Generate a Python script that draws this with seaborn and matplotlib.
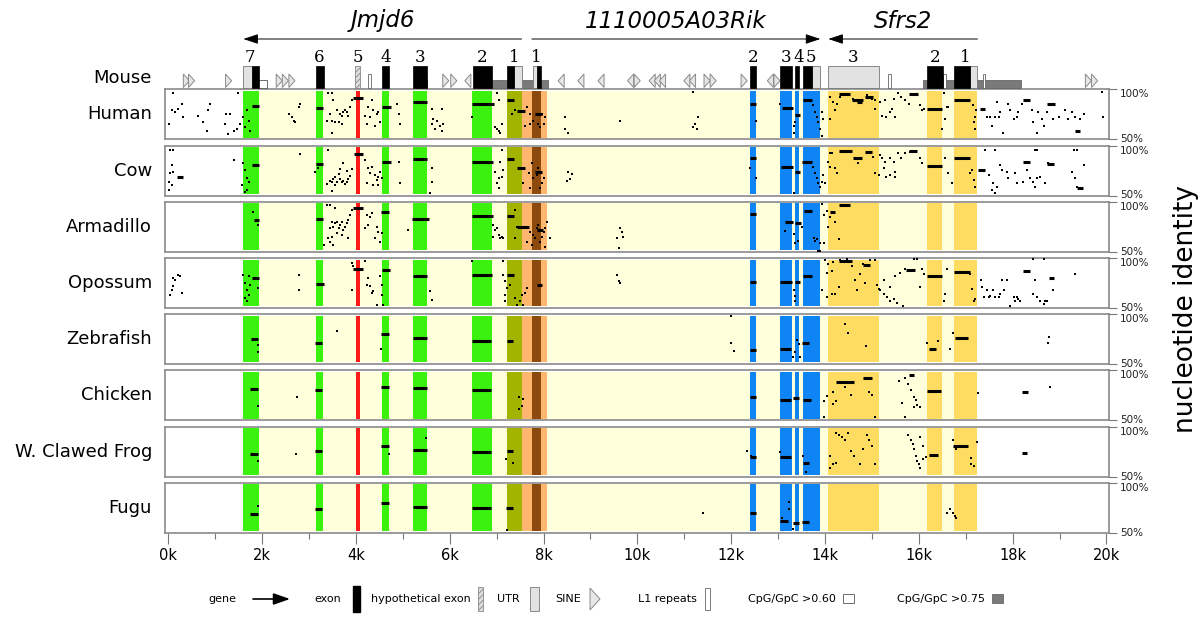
import numpy as np
import pandas as pd
import matplotlib
matplotlib.use("Agg")
import matplotlib.pyplot as plt
from matplotlib.patches import Rectangle, Polygon
import seaborn as sns

# ----- style -----
sns.set_style("white")
plt.rcParams["font.family"] = ["DejaVu Sans"]
plt.rcParams["hatch.linewidth"] = 0.5
plt.rcParams["text.color"] = "black"
plt.rcParams["xtick.color"] = "black"
plt.rcParams["ytick.color"] = "black"

# ----- data (kb along mouse sequence, % identity) -----
species = ["Human", "Cow", "Armadillo", "Opossum", "Zebrafish", "Chicken",
           "W. Clawed Frog", "Fugu"]

# genes on the mouse sequence
gene_names = ["Jmjd6", "1110005A03Rik", "Sfrs2"]
gene_start = [1.60, 7.75, 14.07]
gene_end = [7.53, 13.90, 17.25]
gene_strand = ["-", "+", "-"]

# exon numbers above the track
exon_num_pos = [1.74, 3.22, 4.04, 4.63, 5.37, 6.69, 7.38,
                7.85, 12.46, 13.17, 13.43, 13.69,
                14.59, 16.35, 16.99]
exon_num_text = ["7", "6", "5", "4", "3", "2", "1",
                 "1", "2", "3", "4", "5",
                 "3", "2", "1"]

# mouse annotation features
exons = [(1.78, 1.93), (3.14, 3.31), (4.56, 4.71), (5.22, 5.52), (6.49, 6.89),
         (7.22, 7.36), (7.85, 7.94), (12.41, 12.53), (13.05, 13.30),
         (13.36, 13.45), (13.54, 13.73), (16.18, 16.52), (16.75, 17.10)]
utrs = [(1.60, 1.78), (7.36, 7.53), (7.77, 7.85), (13.73, 13.90),
        (14.06, 15.14), (17.10, 17.25)]
hypothetical_exons = [(3.98, 4.09)]
l1_repeats = [(4.25, 4.32), (15.35, 15.41), (16.52, 16.58), (17.36, 17.42)]
cpg_060 = [(1.92, 2.10)]
cpg_075 = [(5.29, 5.51), (6.61, 8.10), (16.09, 18.18)]
sine_right = [0.32, 0.43, 1.22, 2.30, 2.43, 2.57, 5.85, 6.02, 9.93,
              11.42, 11.55, 12.21, 12.91, 19.55, 19.68]
sine_left = [6.45, 8.44, 8.86, 9.29, 9.92, 10.38, 10.49, 10.60, 11.12,
             11.24, 12.90]

# shaded regions in the identity panels
band_start = [1.60, 1.60, 3.14, 4.56, 5.22, 6.48, 4.00, 7.22, 7.54, 7.94,
              7.75, 12.41, 13.05, 13.36, 13.54, 14.06, 16.18, 16.75]
band_end = [17.25, 1.94, 3.30, 4.71, 5.52, 6.89, 4.09, 7.54, 7.75, 8.08,
            7.94, 12.53, 13.30, 13.45, 13.90, 15.14, 16.50, 17.25]
band_kind = ["region", "jmjd6", "jmjd6", "jmjd6", "jmjd6", "jmjd6", "hypo",
             "jmjd6_first", "utr", "utr", "rik_first", "rik", "rik", "rik",
             "rik", "sfrs2", "sfrs2", "sfrs2"]

# conserved segments (start kb, end kb, identity %)
human_segs = [(1.78, 1.94, 83.3), (3.14, 3.30, 81.6), (3.94, 4.16, 91.8),
              (4.56, 4.74, 82.3), (5.22, 5.52, 87.8), (6.48, 6.94, 85.4),
              (7.22, 7.36, 89.1), (7.43, 7.61, 78.2), (7.82, 7.96, 75.5),
              (12.40, 12.53, 85.0), (13.08, 13.31, 81.6), (13.36, 13.46, 74.5),
              (13.54, 13.72, 89.1), (14.29, 14.54, 95.2), (14.57, 14.82, 89.1),
              (14.86, 15.03, 92.5), (14.68, 14.78, 87.4), (15.78, 15.99, 95.2),
              (16.17, 16.49, 80.6), (16.74, 17.09, 89.1), (17.30, 17.41, 80.0),
              (18.23, 18.37, 89.1), (18.73, 18.90, 85.7), (19.33, 19.44, 58.5)]
human_dots = [(0.11, 95.9), (0.07, 78.9), (0.14, 77.0), (0.29, 85.7), (0.21, 80.6),
              (0.02, 65.3), (0.32, 72.0), (0.64, 73.8), (0.75, 67.0), (0.82, 58.5),
              (0.88, 85.7), (0.85, 78.9), (1.24, 75.5), (1.31, 75.5), (1.21, 65.3),
              (1.28, 55.0), (1.39, 58.5), (1.46, 60.2), (1.53, 65.3), (1.49, 95.9),
              (1.60, 72.0), (1.67, 79.0), (1.71, 68.7), (1.64, 62.0), (1.74, 58.5),
              (2.57, 75.5), (2.64, 72.0), (2.71, 67.0), (2.68, 68.7), (2.78, 82.3),
              (2.81, 85.7), (3.41, 95.9), (3.48, 95.9), (3.52, 89.1), (3.45, 75.5),
              (3.48, 68.7), (3.59, 78.9), (3.66, 75.5), (3.70, 73.8), (3.73, 77.2),
              (3.77, 78.9), (3.80, 77.2), (3.84, 73.8), (3.87, 82.3), (3.55, 67.0),
              (3.48, 56.8), (3.38, 68.7), (3.70, 65.3), (3.63, 67.0), (3.91, 89.0),
              (4.19, 73.8), (4.23, 65.3), (4.26, 82.3), (4.34, 89.1), (4.37, 78.9),
              (4.44, 75.5), (4.51, 67.0), (4.48, 77.2), (4.30, 72.0), (4.41, 63.6),
              (4.87, 85.7), (4.91, 75.5), (4.94, 65.3), (5.62, 65.3), (5.65, 70.4),
              (5.72, 68.7), (5.79, 63.6), (5.83, 58.5), (5.86, 65.3), (5.69, 60.2),
              (5.62, 80.6), (5.83, 80.6), (6.47, 72.0), (7.00, 95.9), (7.04, 89.1),
              (6.97, 62.0), (7.07, 56.8), (7.00, 60.2), (7.11, 65.3), (7.04, 58.5),
              (7.33, 75.5), (7.40, 78.9), (7.64, 82.3), (7.71, 75.5), (7.78, 68.7),
              (7.85, 75.5), (7.89, 65.3), (7.96, 75.5), (8.00, 65.3), (8.03, 72.0),
              (7.71, 65.3), (7.61, 63.6), (7.92, 62.0), (8.46, 72.0), (8.46, 60.2),
              (8.53, 56.8), (9.63, 68.7), (11.19, 96.9), (11.30, 72.1), (11.23, 65.3),
              (11.26, 60.2), (11.19, 61.9), (12.53, 68.7), (13.04, 85.7), (13.33, 63.6),
              (13.36, 67.0), (13.33, 56.8), (13.75, 84.0), (13.79, 77.2), (13.82, 72.1),
              (13.86, 67.0), (13.89, 60.2), (13.93, 53.4), (13.96, 70.4), (13.93, 77.2),
              (14.11, 92.5), (14.18, 87.4), (14.21, 78.9), (14.25, 85.7), (14.32, 92.5),
              (14.60, 90.8), (14.89, 94.2), (15.00, 90.8), (15.07, 89.1), (15.07, 80.6),
              (14.11, 70.4), (15.17, 87.4), (15.28, 89.1), (15.31, 72.1), (15.38, 77.2),
              (15.49, 72.1), (15.46, 90.8), (15.56, 95.9), (15.63, 92.5), (15.71, 89.1),
              (15.78, 85.7), (16.03, 84.0), (16.06, 78.9), (16.10, 80.6), (15.42, 80.6),
              (15.21, 73.8), (16.53, 95.9), (16.56, 70.4), (16.49, 60.2), (16.60, 82.3),
              (16.63, 82.3), (17.15, 84.0), (17.19, 72.1), (17.20, 60.2), (17.17, 67.0),
              (17.22, 78.9), (17.45, 72.1), (17.52, 72.1), (17.56, 63.6), (17.63, 72.1),
              (17.70, 72.1), (17.66, 87.4), (17.73, 77.2), (17.80, 56.8), (17.91, 85.7),
              (17.95, 78.9), (18.02, 70.4), (18.09, 72.1), (18.12, 77.2), (18.19, 85.7),
              (18.41, 78.9), (18.44, 67.0), (18.51, 56.8), (18.55, 77.2), (18.62, 70.4),
              (18.66, 63.6), (18.73, 77.2), (18.87, 70.4), (18.98, 72.1), (19.12, 78.9),
              (19.19, 70.4), (19.26, 77.2), (19.33, 72.1), (19.44, 70.4), (19.51, 75.5),
              (19.90, 96.9), (19.93, 72.1)]

cow_segs = [(0.18, 0.32, 69.0), (1.78, 1.94, 80.7), (3.14, 3.30, 81.3),
            (3.96, 4.14, 91.7), (4.56, 4.74, 83.3), (5.22, 5.52, 86.7),
            (6.48, 6.93, 84.0), (7.22, 7.36, 86.7), (7.43, 7.61, 77.3),
            (7.82, 7.96, 73.3), (12.40, 12.53, 88.0), (13.07, 13.31, 78.7),
            (13.36, 13.46, 73.7), (13.50, 13.72, 84.0), (14.29, 14.57, 94.7),
            (14.60, 14.78, 88.0), (14.86, 15.00, 94.0), (15.78, 15.96, 94.7),
            (16.17, 16.49, 79.3), (16.74, 17.09, 88.0), (17.27, 17.41, 75.3),
            (18.23, 18.37, 84.0), (18.73, 18.88, 81.7), (19.37, 19.49, 57.3)]
cow_dots = [(0.03, 95.7), (0.11, 95.7), (0.07, 80.7), (0.03, 72.3), (0.11, 74.0),
            (0.02, 64.0), (0.07, 60.7), (0.02, 55.7), (1.39, 85.7), (1.60, 82.3),
            (1.64, 75.7), (1.67, 67.3), (1.71, 64.0), (1.67, 55.7), (1.57, 60.7),
            (1.64, 54.0), (2.81, 91.3), (3.13, 74.0), (3.20, 77.3), (3.41, 95.7),
            (3.45, 65.0), (3.48, 63.3), (3.52, 66.7), (3.55, 68.3), (3.59, 63.3),
            (3.63, 71.7), (3.66, 66.7), (3.70, 63.3), (3.73, 65.0), (3.77, 61.7),
            (3.80, 63.3), (3.84, 66.7), (3.87, 70.0), (3.91, 76.7), (3.38, 61.7),
            (3.48, 54.3), (3.55, 60.7), (3.66, 76.7), (3.80, 75.0), (3.73, 82.3),
            (4.19, 85.7), (4.26, 77.3), (4.30, 72.3), (4.34, 79.0), (4.41, 70.7),
            (4.44, 65.7), (4.48, 69.0), (4.55, 67.3), (4.51, 74.0), (4.23, 62.3),
            (4.37, 60.7), (4.48, 60.7), (4.91, 84.0), (4.94, 62.3), (5.62, 77.3),
            (5.62, 64.0), (5.58, 52.3), (7.11, 95.7), (7.07, 84.0), (6.97, 74.0),
            (7.04, 67.3), (7.00, 62.3), (7.11, 69.0), (7.14, 75.7), (7.04, 57.3),
            (7.57, 62.3), (7.68, 72.3), (7.75, 82.3), (7.78, 67.3), (7.85, 70.7),
            (7.89, 77.3), (7.96, 62.3), (8.00, 67.3), (7.71, 57.3), (7.92, 57.3),
            (8.53, 73.3), (8.56, 66.7), (8.49, 65.0), (8.60, 71.7), (12.40, 77.3),
            (12.53, 67.3), (13.33, 52.3), (13.75, 79.0), (13.79, 72.3), (13.82, 67.3),
            (13.86, 62.3), (13.89, 59.0), (13.93, 64.0), (14.00, 62.3), (13.96, 70.3),
            (14.07, 84.0), (14.14, 92.3), (14.21, 77.3), (14.25, 72.3), (14.11, 79.0),
            (14.71, 82.3), (14.89, 92.3), (15.03, 89.0), (15.07, 72.3), (14.11, 92.3),
            (15.14, 70.7), (15.17, 90.7), (15.21, 87.3), (15.25, 77.3), (15.31, 69.0),
            (15.38, 70.7), (15.46, 84.0), (15.49, 74.0), (15.56, 92.3), (15.63, 87.3),
            (15.71, 92.3), (15.81, 94.0), (16.03, 87.3), (16.06, 82.3), (15.49, 69.0),
            (15.38, 87.3), (15.28, 84.0), (16.56, 87.3), (16.63, 72.3), (16.70, 62.3),
            (17.13, 75.7), (17.20, 59.0), (17.17, 65.7), (17.10, 72.3), (17.49, 70.7),
            (17.59, 62.3), (17.56, 55.7), (17.66, 59.0), (17.63, 52.3), (17.73, 80.7),
            (17.77, 75.7), (17.87, 74.0), (17.91, 67.3), (18.05, 72.3), (18.09, 62.3),
            (18.23, 64.0), (18.30, 75.7), (18.37, 67.3), (18.44, 64.0), (18.48, 59.0),
            (18.51, 67.3), (18.58, 69.0), (18.76, 82.3), (18.69, 62.3), (19.26, 74.0),
            (19.33, 67.3), (19.37, 59.0), (19.51, 80.7), (18.48, 95.7), (18.51, 95.7),
            (17.41, 95.7), (17.63, 95.7), (19.30, 95.7), (19.37, 95.7)]

armadillo_segs = [(1.83, 1.94, 81.7), (3.14, 3.30, 82.7), (3.94, 4.16, 93.3),
                  (4.54, 4.71, 90.0), (5.20, 5.55, 82.7), (6.48, 6.92, 86.0),
                  (7.22, 7.36, 86.0), (7.43, 7.68, 74.3), (7.85, 7.99, 71.7),
                  (12.41, 12.53, 88.0), (13.15, 13.31, 80.0), (13.36, 13.48, 78.9),
                  (13.55, 13.72, 90.5), (14.11, 14.21, 89.8), (14.29, 14.54, 96.8)]
armadillo_dots = [(1.81, 90.0), (1.92, 76.7), (3.38, 96.7), (3.45, 96.7), (3.55, 93.3),
                  (3.45, 73.3), (3.48, 80.0), (3.52, 75.0), (3.55, 78.3), (3.59, 80.0),
                  (3.63, 73.3), (3.66, 76.7), (3.70, 80.0), (3.73, 71.7), (3.77, 75.0),
                  (3.80, 78.3), (3.84, 81.7), (3.87, 86.7), (3.91, 91.7), (3.41, 63.3),
                  (3.48, 65.0), (3.52, 56.7), (3.45, 60.0), (3.59, 68.3), (3.84, 63.3),
                  (3.70, 66.7), (3.31, 56.7), (4.23, 86.7), (4.30, 85.0), (4.26, 76.7),
                  (4.34, 88.3), (4.19, 73.3), (4.44, 75.0), (4.48, 70.0), (4.41, 63.3),
                  (4.55, 68.3), (4.51, 60.0), (5.12, 71.7), (6.93, 76.7), (7.00, 73.3),
                  (7.04, 66.7), (7.11, 65.0), (7.07, 63.3), (7.14, 63.3), (6.97, 71.7),
                  (6.93, 65.0), (7.39, 91.7), (7.43, 75.0), (7.39, 63.3), (7.71, 70.0),
                  (7.78, 66.7), (7.82, 63.3), (7.85, 73.3), (7.89, 76.7), (7.92, 60.0),
                  (7.96, 65.0), (8.00, 70.0), (8.03, 73.3), (8.07, 80.0), (8.14, 63.3),
                  (8.03, 55.0), (7.75, 56.7), (7.64, 60.0), (9.56, 63.3), (9.63, 73.3),
                  (9.67, 70.0), (9.70, 65.0), (9.60, 53.3), (13.15, 71.1), (13.33, 67.6),
                  (13.36, 58.8), (13.43, 60.6), (13.51, 74.6), (13.76, 64.1), (13.79, 60.6),
                  (13.83, 62.3), (13.90, 58.8), (13.93, 97.5), (13.97, 87.0), (13.97, 58.8),
                  (13.86, 51.0), (13.90, 51.0), (14.04, 90.5), (14.07, 74.6), (14.11, 85.2),
                  (14.18, 88.7), (14.21, 79.9), (14.29, 62.3)]

opossum_segs = [(1.78, 1.94, 80.3), (3.14, 3.31, 74.0), (3.94, 4.16, 89.3),
                (4.56, 4.73, 88.0), (5.22, 5.52, 82.0), (6.48, 6.90, 83.0),
                (7.23, 7.36, 83.0), (7.85, 7.96, 72.7), (12.41, 12.53, 76.0),
                (13.04, 13.29, 75.7), (13.36, 13.47, 75.7), (13.54, 13.72, 82.4),
                (14.29, 14.57, 96.8), (14.82, 14.96, 93.0), (15.73, 15.92, 87.7),
                (16.17, 16.49, 82.4), (16.74, 17.09, 85.9), (18.23, 18.37, 87.0),
                (18.77, 18.89, 79.9)]
opossum_dots = [(0.11, 80.0), (0.14, 78.3), (0.21, 83.3), (0.25, 81.7), (0.07, 68.3),
                (0.11, 71.7), (0.04, 63.3), (0.29, 65.0), (1.60, 83.3), (1.64, 75.0),
                (1.67, 68.3), (1.71, 63.3), (1.74, 73.3), (1.64, 60.0), (1.67, 56.7),
                (1.71, 81.7), (1.92, 70.0), (2.78, 83.3), (2.78, 68.3), (3.91, 95.0),
                (3.94, 91.7), (3.91, 68.3), (4.19, 96.7), (4.23, 73.3), (4.26, 80.0),
                (4.30, 71.7), (4.34, 65.0), (4.37, 66.7), (4.51, 81.7), (4.55, 73.3),
                (4.55, 63.3), (4.44, 53.3), (4.58, 53.3), (5.58, 66.7), (5.62, 58.3),
                (6.47, 97.3), (7.14, 96.7), (7.14, 83.3), (7.18, 76.7), (7.18, 63.3),
                (7.21, 70.0), (7.28, 73.3), (7.39, 60.0), (7.43, 53.3), (7.50, 56.7),
                (7.54, 63.3), (7.61, 65.0), (7.64, 70.0), (7.57, 53.3), (7.18, 56.7),
                (9.56, 83.3), (9.60, 76.7), (9.63, 75.0), (13.33, 67.6), (13.35, 62.3),
                (13.36, 57.1), (13.93, 67.6), (14.00, 97.5), (14.04, 85.2), (14.07, 94.0),
                (14.14, 87.0), (14.18, 95.8), (14.21, 64.1), (14.29, 71.1), (14.32, 97.5),
                (14.47, 98.6), (14.57, 92.3), (14.64, 78.2), (14.68, 67.6), (14.75, 83.5),
                (14.82, 94.0), (14.85, 74.7), (14.92, 93.0), (14.96, 97.5), (14.04, 60.6),
                (14.14, 64.1), (15.07, 97.5), (15.10, 72.9), (15.14, 69.4), (15.17, 67.6),
                (15.25, 64.1), (15.32, 60.6), (15.39, 57.1), (15.46, 58.8), (15.53, 55.3),
                (15.60, 85.2), (15.67, 51.8), (15.71, 88.7), (15.78, 87.0), (15.85, 87.0),
                (15.89, 98.6), (15.96, 98.6), (16.03, 71.1), (16.06, 88.7), (16.10, 83.5),
                (15.50, 81.7), (15.25, 78.2), (15.39, 71.1), (16.53, 57.1), (16.56, 64.1),
                (16.60, 88.7), (17.13, 69.4), (17.17, 57.1), (17.20, 58.8), (17.10, 83.5),
                (17.32, 78.2), (17.35, 71.1), (17.38, 60.6), (17.45, 67.6), (17.49, 60.6),
                (17.52, 62.3), (17.59, 67.6), (17.63, 60.6), (17.70, 60.6), (17.74, 64.1),
                (17.77, 78.2), (17.81, 67.6), (17.88, 78.2), (17.95, 51.8), (18.02, 60.6),
                (18.05, 57.1), (18.09, 60.6), (18.12, 58.8), (18.16, 57.1), (18.44, 64.1),
                (18.48, 78.2), (18.51, 60.6), (18.58, 57.1), (18.66, 53.5), (18.69, 57.1),
                (18.73, 57.1), (18.87, 67.6), (19.33, 83.5), (18.44, 98.6), (18.66, 98.6)]

zebrafish_segs = [(1.76, 1.92, 75.2), (3.13, 3.28, 70.7), (4.53, 4.70, 80.0),
                  (5.21, 5.52, 76.6), (6.48, 6.87, 73.1), (7.22, 7.34, 73.1),
                  (12.39, 12.52, 64.5), (13.03, 13.28, 65.5), (13.50, 13.66, 70.7),
                  (16.22, 16.37, 65.5), (16.76, 17.05, 76.6)]
zebrafish_dots = [(1.92, 69.0), (1.92, 62.0), (3.60, 82.8), (4.53, 65.5), (12.00, 98.3),
                  (12.00, 70.7), (12.07, 62.8), (13.35, 62.1), (13.45, 69.7), (13.41, 74.1),
                  (13.47, 56.9), (13.32, 56.9), (14.43, 90.3), (14.50, 81.0), (14.88, 68.3),
                  (16.18, 70.7), (16.41, 73.1), (16.67, 65.5), (16.73, 81.0), (18.77, 77.6),
                  (18.75, 70.7)]

chicken_segs = [(1.75, 1.92, 81.4), (3.13, 3.28, 80.3), (4.53, 4.70, 83.8),
                (5.21, 5.52, 82.8), (6.48, 6.87, 80.3), (12.39, 12.52, 73.4),
                (13.03, 13.28, 70.7), (13.32, 13.45, 72.8), (13.54, 13.71, 70.7),
                (14.24, 14.62, 88.0), (14.82, 15.00, 92.4), (15.80, 15.90, 95.0),
                (16.17, 16.48, 79.0), (18.20, 18.33, 77.9)]
chicken_dots = [(1.92, 64.8), (2.75, 73.4), (7.47, 73.4), (7.54, 64.8), (7.47, 61.4),
                (7.57, 71.7), (13.98, 69.3), (14.05, 74.5), (14.18, 77.9), (14.24, 69.3),
                (14.30, 86.9), (14.43, 83.4), (14.56, 75.5), (14.88, 91.0), (14.94, 78.6),
                (15.01, 75.2), (15.07, 53.5), (13.98, 53.8), (14.18, 65.9), (15.58, 89.3),
                (15.71, 92.8), (15.77, 85.9), (15.84, 80.7), (15.90, 73.8), (15.96, 65.2),
                (16.03, 63.4), (15.65, 67.6), (15.71, 53.8), (15.90, 63.4), (15.93, 70.3),
                (17.27, 77.0), (18.80, 83.1)]

frog_segs = [(1.75, 1.92, 72.4), (3.13, 3.28, 75.9), (4.53, 4.70, 80.3),
             (5.21, 5.52, 76.6), (6.48, 6.87, 74.9), (7.22, 7.34, 75.9),
             (12.39, 12.52, 70.0), (13.05, 13.28, 69.7), (13.52, 13.66, 63.8),
             (16.22, 16.40, 72.0), (16.73, 17.05, 81.0), (18.20, 18.30, 73.4)]
frog_dots = [(1.92, 65.5), (2.72, 72.4), (4.70, 72.4), (5.49, 88.3), (7.19, 67.2),
             (7.34, 63.1), (12.33, 75.9), (12.43, 70.8), (13.03, 74.1), (13.54, 70.7),
             (13.60, 54.8), (14.24, 93.1), (14.30, 91.4), (14.37, 89.7), (14.43, 86.2),
             (14.50, 93.1), (14.11, 70.7), (14.18, 62.1), (14.24, 63.8), (14.56, 75.9),
             (14.81, 77.6), (14.94, 86.2), (15.01, 81.0), (15.07, 62.1), (14.90, 91.4),
             (14.62, 70.7), (14.75, 62.1), (14.11, 58.6), (15.77, 91.4), (15.84, 86.2),
             (15.90, 77.6), (15.93, 70.7), (15.96, 65.5), (16.03, 58.6), (16.00, 62.1),
             (15.87, 82.8), (16.09, 81.0), (16.03, 89.7), (16.16, 69.7), (16.09, 67.2),
             (16.73, 86.2), (16.79, 77.6), (17.11, 69.0), (17.17, 60.3), (17.24, 84.5),
             (17.11, 62.1)]

fugu_segs = [(1.75, 1.92, 68.3), (3.13, 3.28, 73.4), (4.53, 4.70, 79.3),
             (5.21, 5.52, 76.2), (6.48, 6.87, 74.5), (7.19, 7.34, 74.5),
             (12.39, 12.52, 70.0), (13.03, 13.22, 62.1), (13.31, 13.45, 59.7),
             (13.50, 13.66, 60.7)]
fugu_dots = [(1.92, 76.9), (7.22, 52.8), (11.39, 70.0), (13.24, 80.3), (13.24, 73.4),
             (13.09, 64.8), (13.32, 53.4), (16.67, 73.4), (16.73, 70.0), (16.77, 66.6),
             (16.60, 69.3), (16.79, 64.5)]

species_segs = {"Human": human_segs, "Cow": cow_segs, "Armadillo": armadillo_segs,
                "Opossum": opossum_segs, "Zebrafish": zebrafish_segs,
                "Chicken": chicken_segs, "W. Clawed Frog": frog_segs, "Fugu": fugu_segs}
species_dots = {"Human": human_dots, "Cow": cow_dots, "Armadillo": armadillo_dots,
                "Opossum": opossum_dots, "Zebrafish": zebrafish_dots,
                "Chicken": chicken_dots, "W. Clawed Frog": frog_dots, "Fugu": fugu_dots}

# ----- colours -----
band_colors = {"region": "#FFFFDC", "jmjd6": "#3AF20E", "hypo": "#FF1A1A",
               "jmjd6_first": "#A2B300", "utr": "#FFB770", "rik_first": "#8C4A0C",
               "rik": "#0F84F5", "sfrs2": "#FEDC62"}
FRAME = "#8a8a8a"

# ----- layout (pixels of a 1200x618 figure) -----
W, H = 1200, 618
x_left, x_right = 164.7, 1109.3
xlim = (-0.077, 20.06)
panel_top0, panel_step, panel_h = 89.3, 56.2, 50


def fig_box(top, height):
    return [x_left / W, 1 - (top + height) / H, (x_right - x_left) / W, height / H]


fig = plt.figure(figsize=(12, 6.18), dpi=100)

# ----- identity panels -----
for i, sp in enumerate(species):
    top = panel_top0 + panel_step * i
    ax = fig.add_axes(fig_box(top, panel_h))

    for x0, x1, kind in zip(band_start, band_end, band_kind):
        ax.axvspan(x0, x1, ymin=0.035, ymax=0.965, color=band_colors[kind],
                   lw=0, zorder=0)

    segs = pd.DataFrame(species_segs[sp], columns=["start", "end", "identity"])
    ax.hlines(segs["identity"], segs["start"], segs["end"], color="black",
              lw=2.2, zorder=3)

    dots = pd.DataFrame(species_dots[sp], columns=["kb", "identity"])
    sns.scatterplot(data=dots, x="kb", y="identity", ax=ax, marker="s", s=4.5,
                    color="black", linewidth=0, legend=False, zorder=3)

    ax.set_xlim(xlim)
    ax.set_ylim(50, 100)
    ax.set_xlabel("")
    ax.set_ylabel("")
    for sp_name in ["top", "bottom", "left", "right"]:
        ax.spines[sp_name].set_visible(True)
        ax.spines[sp_name].set_color(FRAME)
        ax.spines[sp_name].set_linewidth(1.2)

    ax.yaxis.tick_right()
    ax.set_yticks([50, 100])
    ax.set_yticklabels(["50%", "100%"])
    ax.tick_params(axis="y", right=True, length=6, width=0.8, color="#777777",
                   labelsize=7.5, pad=1.5, labelcolor="#222222")
    lab50, lab100 = ax.get_yticklabels()
    lab100.set_verticalalignment("top")
    lab50.set_verticalalignment("center")

    if i < len(species) - 1:
        ax.set_xticks([])
    else:
        major = list(range(0, 21, 2))
        ax.set_xticks(major)
        ax.set_xticklabels([f"{m}k" for m in major])
        ax.set_xticks(list(range(1, 20, 2)), minor=True)
        ax.tick_params(axis="x", which="major", bottom=True, length=8, width=0.8,
                       color="#777777", labelsize=10.5, pad=3)
        ax.tick_params(axis="x", which="minor", bottom=True, length=4, width=0.8,
                       color="#777777")

# ----- mouse annotation track -----
tr = fig.add_axes([x_left / W, 1 - 89 / H, (x_right - x_left) / W, 89 / H])
tr.set_xlim(xlim)
tr.set_ylim(89, 0)
tr.axis("off")

for name, g0, g1, strand in zip(gene_names, gene_start, gene_end, gene_strand):
    head, tail = (g0, g1) if strand == "-" else (g1, g0)
    tr.annotate("", xy=(head, 39), xytext=(tail, 39),
                arrowprops=dict(arrowstyle="-|>,head_length=0.9,head_width=0.3",
                                color="black", lw=0.7, shrinkA=0, shrinkB=0))
    tr.text((g0 + g1) / 2, 21, name, style="italic", fontsize=16.5,
            ha="center", va="center")

for pos, txt in zip(exon_num_pos, exon_num_text):
    tr.text(pos, 57, txt, fontsize=12, family="DejaVu Serif",
            ha="center", va="center")

for x0, x1 in cpg_075:
    tr.add_patch(Rectangle((x0, 80), x1 - x0, 7.5, facecolor="#7a7a7a",
                           edgecolor="#666666", lw=0.6, zorder=1))
for x0, x1 in cpg_060:
    tr.add_patch(Rectangle((x0, 80), x1 - x0, 7.5, facecolor="white",
                           edgecolor="#555555", lw=0.6, zorder=1))
for x0, x1 in l1_repeats:
    tr.add_patch(Rectangle((x0, 74), x1 - x0, 13.5, facecolor="white",
                           edgecolor="#666666", lw=0.6, zorder=2))
for x0, x1 in utrs:
    tr.add_patch(Rectangle((x0, 65.5), x1 - x0, 22.5, facecolor="#e2e2e2",
                           edgecolor="#777777", lw=0.6, zorder=2))
for x0, x1 in hypothetical_exons:
    tr.add_patch(Rectangle((x0, 65.5), x1 - x0, 22.5, facecolor="#dddddd",
                           edgecolor="#777777", hatch="//////", lw=0.5, zorder=2))
for x0, x1 in exons:
    tr.add_patch(Rectangle((x0, 65.5), x1 - x0, 22.5, facecolor="black",
                           edgecolor="black", lw=0.5, zorder=3))

tri_w = 0.13
for x0 in sine_right:
    tr.add_patch(Polygon([(x0, 74), (x0, 87.5), (x0 + tri_w, 80.75)], closed=True,
                         facecolor="#e6e6e6", edgecolor="#8a8a8a", lw=0.7, zorder=2))
for x1 in sine_left:
    tr.add_patch(Polygon([(x1, 74), (x1, 87.5), (x1 - tri_w, 80.75)], closed=True,
                         facecolor="#e6e6e6", edgecolor="#8a8a8a", lw=0.7, zorder=2))

# ----- labels and legend (pixel overlay) -----
ov = fig.add_axes([0, 0, 1, 1])
ov.set_xlim(0, W)
ov.set_ylim(H, 0)
ov.axis("off")

ov.text(152, 78, "Mouse", ha="right", va="center", fontsize=13)
for i, sp in enumerate(species):
    ov.text(152, panel_top0 + panel_step * i + panel_h / 2, sp,
            ha="right", va="center", fontsize=13)
ov.text(1186, 309, "nucleotide identity", rotation=90, ha="center", va="center",
        fontsize=19)

leg_y = 599
leg_font = dict(fontsize=8, va="center", ha="center")
ov.text(222, leg_y, "gene", **leg_font)
ov.annotate("", xy=(290, leg_y), xytext=(253, leg_y),
            arrowprops=dict(arrowstyle="-|>,head_length=1.0,head_width=0.35",
                            color="black", lw=1.2, shrinkA=0, shrinkB=0))
ov.text(328, leg_y, "exon", **leg_font)
ov.add_patch(Rectangle((353, 586), 7, 26, facecolor="black", edgecolor="black"))
ov.text(421, leg_y, "hypothetical exon", **leg_font)
ov.add_patch(Rectangle((478, 587), 5, 24, facecolor="#dddddd", edgecolor="#777777",
                       hatch="//////", lw=0.5))
ov.text(508, leg_y, "UTR", **leg_font)
ov.add_patch(Rectangle((530, 587), 9, 24, facecolor="#e2e2e2", edgecolor="#777777",
                       lw=0.6))
ov.text(568, leg_y, "SINE", **leg_font)
ov.add_patch(Polygon([(590, 588), (590, 610), (600, 599)], closed=True,
                     facecolor="#e6e6e6", edgecolor="#8a8a8a", lw=0.7))
ov.text(667, leg_y, "L1 repeats", **leg_font)
ov.add_patch(Rectangle((705, 588), 5, 22, facecolor="white", edgecolor="#666666",
                       lw=0.6))
ov.text(792, leg_y, "CpG/GpC >0.60", **leg_font)
ov.add_patch(Rectangle((843, 594), 11, 9, facecolor="white", edgecolor="#555555",
                       lw=0.6))
ov.text(941, leg_y, "CpG/GpC >0.75", **leg_font)
ov.add_patch(Rectangle((992, 594), 11, 9, facecolor="#7a7a7a", edgecolor="#666666",
                       lw=0.6))

fig.savefig("out.png", dpi=100)
